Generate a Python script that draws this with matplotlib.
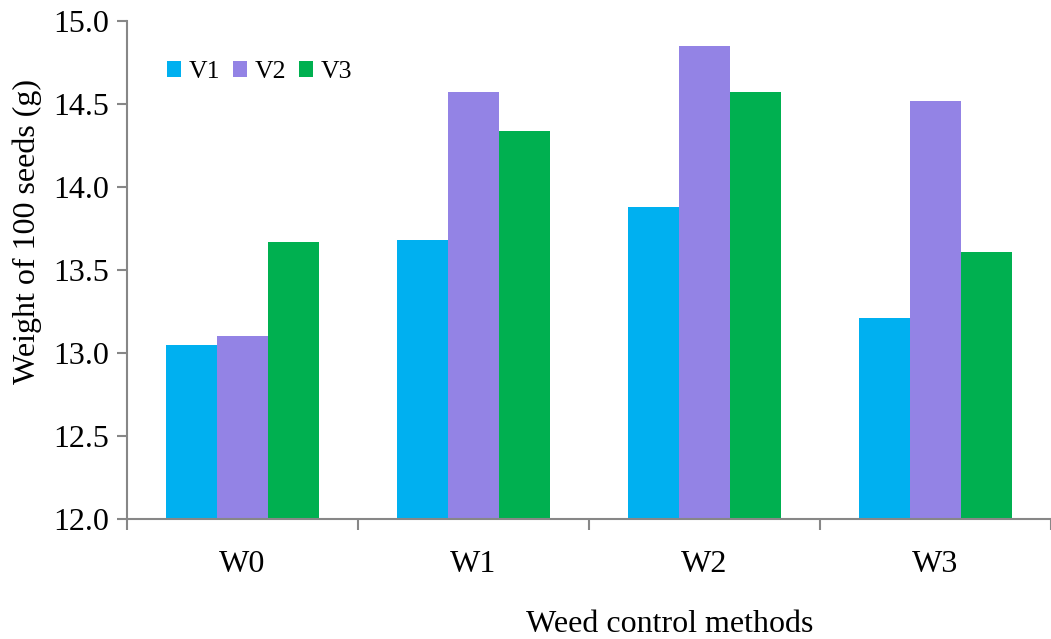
import numpy as np
import matplotlib.pyplot as plt

plt.rcParams['font.family'] = ['Liberation Serif', 'DejaVu Serif']

# data
methods = ['W0', 'W1', 'W2', 'W3']
series = ['V1', 'V2', 'V3']
v1 = [13.05, 13.68, 13.88, 13.21]
v2 = [13.10, 14.57, 14.85, 14.52]
v3 = [13.67, 14.34, 14.57, 13.61]
colors = ['#00B0F0', '#9383E5', '#00B050']

fig = plt.figure(figsize=(10.51, 6.39), dpi=100)
ax = fig.add_axes([127 / 1051, 120 / 639, 924 / 1051, 498 / 639])

x = np.arange(len(methods))
w = 0.222
for i, (vals, name) in enumerate(zip([v1, v2, v3], series)):
    ax.bar(x + (i - 1) * w, np.array(vals) - 12.0, width=w, bottom=12.0,
           color=colors[i], label=name, zorder=2)

ax.set_xlim(-0.5, len(methods) - 0.5)
ax.set_ylim(12.0, 15.0)
ax.set_yticks(np.arange(12.0, 15.01, 0.5))
ax.set_yticklabels(['%.1f' % v for v in np.arange(12.0, 15.01, 0.5)])
ax.set_xticks(x)
ax.set_xticklabels(methods)
ax.set_xticks(np.arange(-0.5, len(methods)), minor=True)

# 轴线样式
for s in ['top', 'right']:
    ax.spines[s].set_visible(False)
for s in ['left', 'bottom']:
    ax.spines[s].set_color('#878787')
    ax.spines[s].set_linewidth(1.5)
ax.tick_params(axis='y', direction='out', length=7, width=1.5, color='#878787',
               labelsize=23, pad=6)
ax.tick_params(axis='x', which='major', length=0, labelsize=23, pad=22)
ax.tick_params(axis='x', which='minor', direction='out', length=8, width=1.5,
               color='#878787')

fig.text(0.026, 0.637, 'Weight of 100 seeds (g)', rotation=90, fontsize=23,
         ha='center', va='center')
fig.text(0.6375, 0.022, 'Weed control methods', fontsize=23, ha='center',
         va='center')

ax.legend(loc='upper left', bbox_to_anchor=(0.032, 0.94), ncol=3, frameon=False,
          fontsize=18.5, handlelength=0.55, handleheight=0.55, handletextpad=0.3,
          columnspacing=0.5, borderaxespad=0)

fig.savefig('out.png', dpi=100)
